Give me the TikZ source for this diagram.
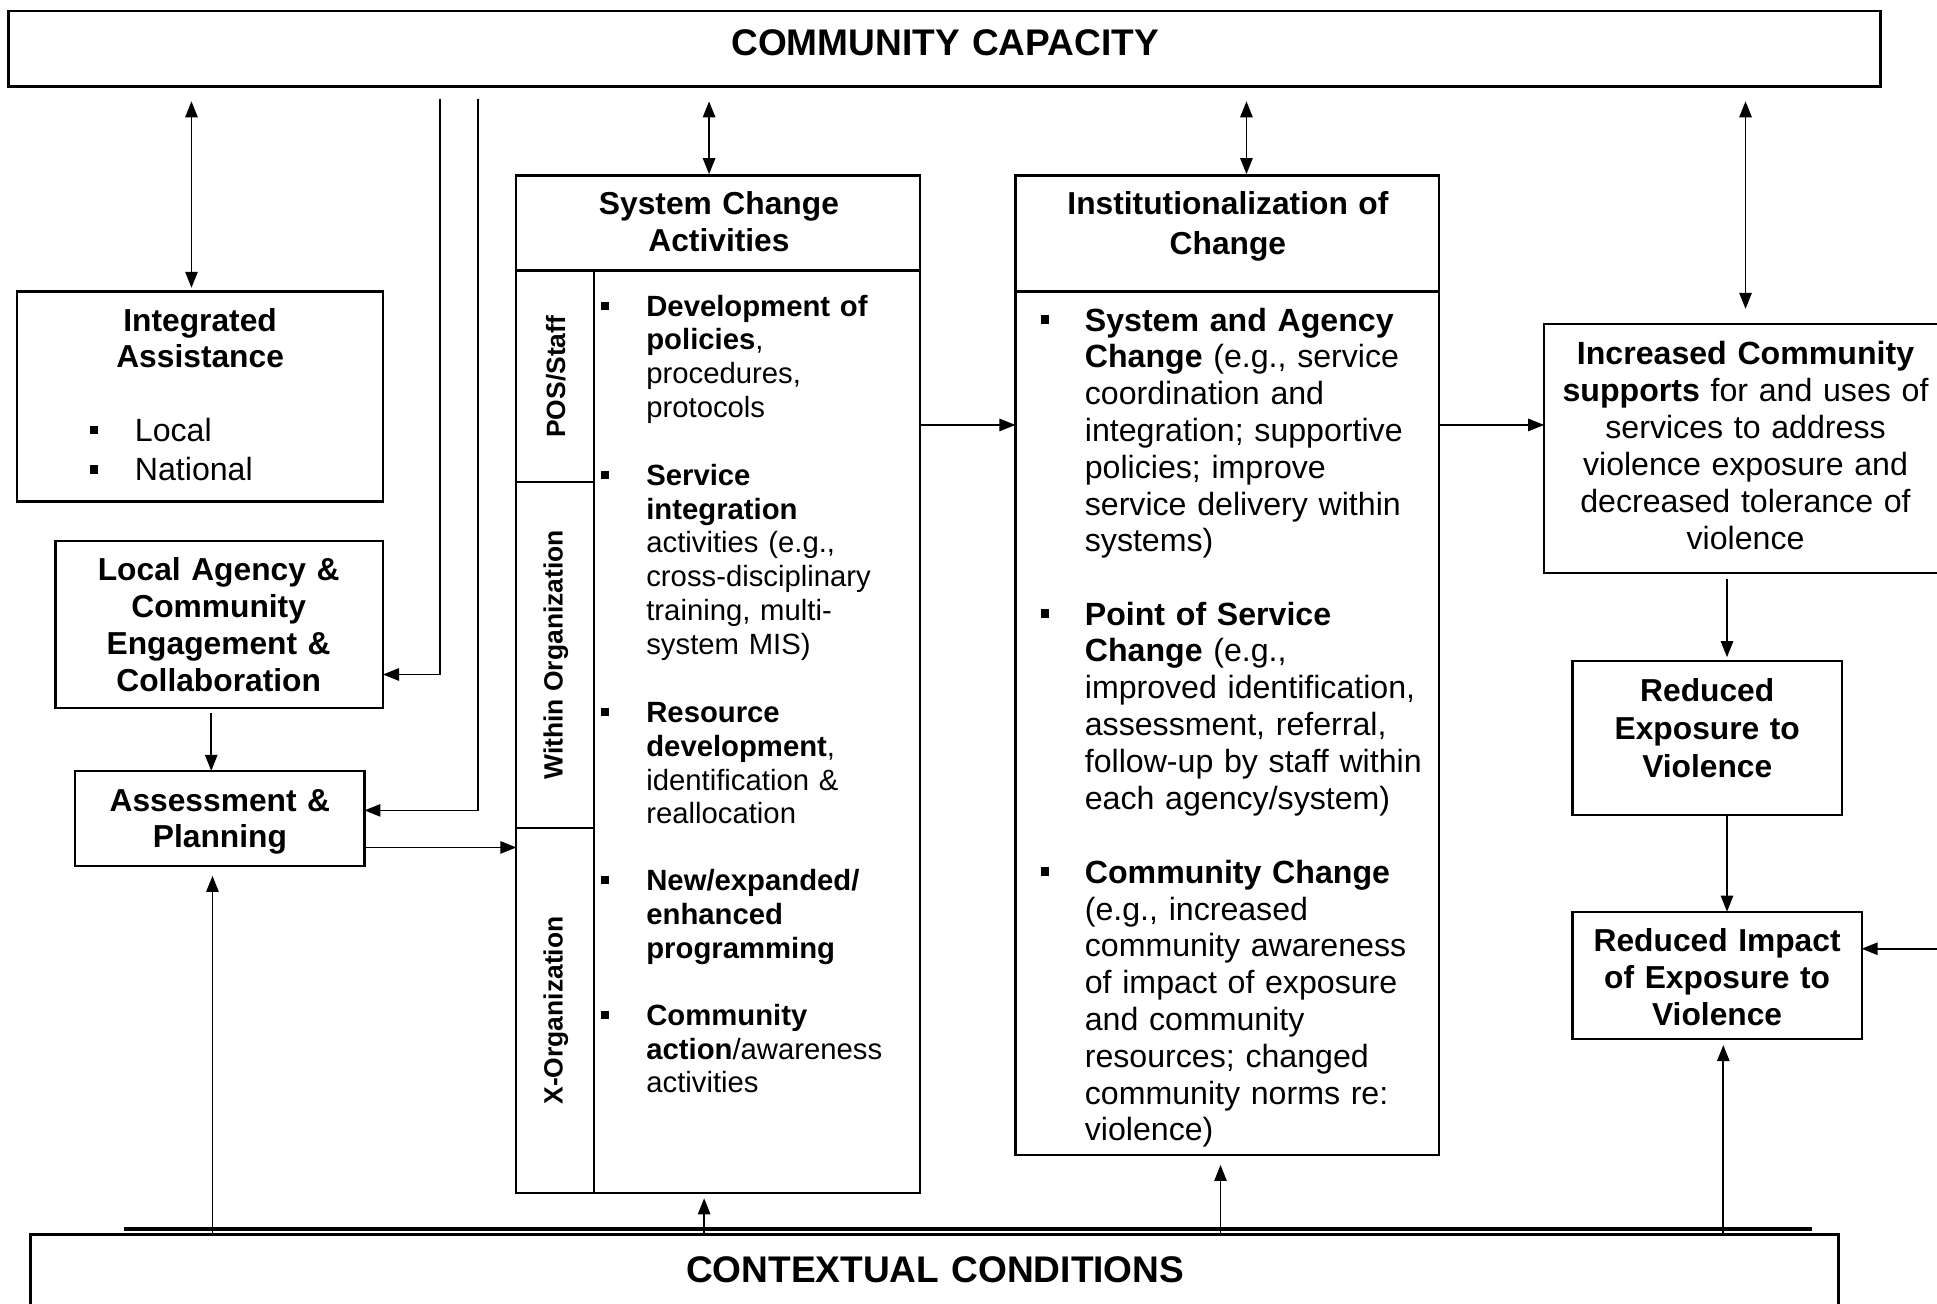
\documentclass[tikz,border=0pt]{standalone}
\usepackage{fontspec}
\setmainfont{Liberation Sans}
\usetikzlibrary{arrows.meta,calc}
\begin{document}
\begin{tikzpicture}[x=1pt,y=-1pt,
  box/.style={draw, line width=1.8pt, inner sep=0pt, outer sep=0pt},
  conn/.style={line width=1.4pt, -{Triangle[length=13pt,width=10pt]}},
  dconn/.style={line width=1.4pt, {Triangle[length=13pt,width=10pt]}-{Triangle[length=13pt,width=10pt]}},
  ttl/.style={font=\bfseries\fontsize{25.7}{29.8}\selectfont, align=center, inner sep=0pt, anchor=base},
  body/.style={font=\fontsize{23.7}{27.3}\selectfont, align=left, inner sep=0pt, anchor=base west, text width=220pt},
  bodyL/.style={font=\fontsize{26}{29.8}\selectfont, align=left, inner sep=0pt, anchor=base west, text width=290pt},
  bul/.style={fill, inner sep=0pt, minimum size=6.5pt},
  side/.style={font=\bfseries\fontsize{21.4}{25}\selectfont, rotate=90, inner sep=0pt},
]
\useasboundingbox (0,0) rectangle (1568,1055);
\clip (0,0) rectangle (1568,1055);

% ---------- top box
\node[box, line width=2.2pt, minimum width=1515pt, minimum height=61pt] (cc) at (764.5,39.5) {};
\node[ttl, font=\bfseries\fontsize{30}{34}\selectfont, text width=800pt] (cct) at (765,45) {COMMUNITY CAPACITY};

% ---------- left column
\node[box, minimum width=296pt, minimum height=170pt] (ia) at (162,321) {};
\node[ttl, text width=280pt] (iat) at (162,268) {Integrated\\Assistance};
\node[bul, minimum size=7pt] (iab1) at (76,348) {};
\node[bul, minimum size=7pt] (iab2) at (76,380) {};
\node[bodyL, font=\fontsize{26}{32}\selectfont, text width=180pt] (iab) at (109,357) {Local\\National};

\node[box, minimum width=265pt, minimum height=135pt] (la) at (177.5,505.5) {};
\node[ttl, text width=260pt] (lat) at (177,470) {Local Agency \&\\Community\\Engagement \&\\Collaboration};

\node[box, minimum width=234pt, minimum height=77pt] (ap) at (178,662.5) {};
\node[ttl, text width=230pt, font=\bfseries\fontsize{25.7}{29}\selectfont] (apt) at (178,657) {Assessment \&\\Planning};

% ---------- System change activities
\node[box, minimum width=327pt, minimum height=824pt] (sc) at (581.5,554) {};
\draw[line width=1.8pt] (sc.west |- 0,219) coordinate (sch1) -- (sc.east |- 0,219) coordinate (sch2);
\draw[line width=1.8pt] (481,219) coordinate (scv1) -- (scv1 |- sc.south);
\draw[line width=1.8pt] (sc.west |- 0,390) coordinate (scd1) -- (scd1 -| scv1);
\draw[line width=1.8pt] (sc.west |- 0,670) coordinate (scd2) -- (scd2 -| scv1);
\node[ttl, text width=320pt] (sct) at (582,174) {System Change\\Activities};
\node[side] (s1) at (450,305) {POS/Staff};
\node[side] (s2) at (450,530) {Within Organization};
\node[side] (s3) at (450,818) {X-Organization};

\node[bul] (b1) at (490,247.5) {};
\node[body] (t1) at (523,256) {\textbf{Development of}\\\textbf{policies},\\procedures,\\protocols};
\node[bul] (b2) at (490,384.5) {};
\node[body] (t2) at (523,393) {\textbf{Service}\\\textbf{integration}\\activities (e.g.,\\cross-disciplinary\\training, multi-\\system MIS)};
\node[bul] (b3) at (490,576.5) {};
\node[body] (t3) at (523,585) {\textbf{Resource}\\\textbf{development},\\identification \&\\reallocation};
\node[bul] (b4) at (490,712.5) {};
\node[body] (t4) at (523,721) {\textbf{New/expanded/}\\\textbf{enhanced}\\\textbf{programming}};
\node[bul] (b5) at (490,821.5) {};
\node[body] (t5) at (523,830) {\textbf{Community}\\\textbf{action}/awareness\\activities};

% ---------- Institutionalization
\node[box, minimum width=343pt, minimum height=793pt] (inst) at (993.5,538.5) {};
\draw[line width=1.8pt] (inst.west |- 0,236) coordinate (ih1) -- (inst.east |- 0,236) coordinate (ih2);
\node[ttl, text width=335pt, font=\bfseries\fontsize{25.7}{32}\selectfont] (instt) at (994,174) {Institutionalization of\\Change};
\node[bul, minimum size=7pt] (ib1) at (846,258.7) {};
\node[bodyL] (it1) at (878,268) {\textbf{System and Agency}\\\textbf{Change} (e.g., service\\coordination and\\integration; supportive\\policies; improve\\service delivery within\\systems)};
\node[bul, minimum size=7pt] (ib2) at (846,496.7) {};
\node[bodyL] (it2) at (878,506) {\textbf{Point of Service}\\\textbf{Change} (e.g.,\\improved identification,\\assessment, referral,\\follow-up by staff within\\each agency/system)};
\node[bul, minimum size=7pt] (ib3) at (846,705.7) {};
\node[bodyL] (it3) at (878,715) {\textbf{Community Change}\\(e.g., increased\\community awareness\\of impact of exposure\\and community\\resources; changed\\community norms re:\\violence)};

% ---------- right column
\node[box, minimum width=350pt, minimum height=202pt] (inc) at (1425,363) {};
\node[ttl, font=\fontsize{26}{30}\selectfont, text width=320pt] (inct) at (1413,295) {\textbf{Increased Community}\\\textbf{supports} for and uses of\\services to address\\violence exposure and\\decreased tolerance of\\violence};

\node[box, minimum width=218pt, minimum height=125pt] (rex) at (1382,597.5) {};
\node[ttl, text width=210pt, font=\bfseries\fontsize{25.7}{30.5}\selectfont] (rext) at (1382,568) {Reduced\\Exposure to\\Violence};

\node[box, minimum width=234pt, minimum height=103pt] (rim) at (1390,789.5) {};
\node[ttl, text width=230pt, font=\bfseries\fontsize{25.7}{30}\selectfont] (rimt) at (1390,770) {Reduced Impact\\of Exposure to\\Violence};

% ---------- bottom
\draw[line width=3.2pt] (100,995) coordinate (bl1) -- (1467,995) coordinate (bl2);
\node[box, line width=2.6pt, minimum width=1463pt, minimum height=76pt] (ctx) at (756.5,1037) {};
\node[ttl, font=\bfseries\fontsize{30}{34}\selectfont, text width=800pt] (ctxt) at (757,1038) {CONTEXTUAL CONDITIONS};

% ---------- connectors
\coordinate (c1) at (155,82);
\draw[dconn] (c1) -- ($(c1 |- ia.north)+(0,-3)$);
\coordinate (c2) at (574,82);
\draw[dconn] (c2) -- ($(c2 |- sc.north)+(0,-1)$);
\coordinate (c3) at (1009,82);
\draw[dconn] (c3) -- ($(c3 |- inst.north)+(0,-1)$);
\coordinate (c4) at (1413,82);
\draw[dconn] (c4) -- ($(c4 |- inc.north)+(0,-12)$);

\coordinate (l1) at (356,80);
\draw[conn] (l1) |- ($(la.south east)+(0,-27)$);
\coordinate (l2) at (387,80);
\draw[conn] (l2) |- ($(ap.south east)+(0,-45)$);

\coordinate (la1) at ($(la.south)+(-6.5,4)$);
\draw[conn] (la1) -- (la1 |- ap.north);
\coordinate (ap1) at ($(ap.south east)+(0,-15)$);
\draw[conn] (ap1) -- (ap1 -| sc.west);
\coordinate (sc1) at (sc.east |- 0,344);
\draw[conn] (sc1) -- (sc1 -| inst.west);
\coordinate (in1) at (inst.east |- 0,344);
\draw[conn] (in1) -- (in1 -| inc.west);
\coordinate (inc1) at (1398,469);
\draw[conn] (inc1) -- ($(inc1 |- rex.north)+(0,-3)$);
\coordinate (rex1) at (rex.south -| inc1);
\draw[conn] (rex1) -- (rex1 |- rim.north);
\coordinate (r1) at (1568,768);
\draw[conn] (r1) -- (r1 -| rim.east);

\coordinate (d1) at (ctx.north -| 172,0);
\draw[conn] (d1) -- ($(d1 |- ap.south)+(0,8)$);
\coordinate (d2) at (ctx.north -| 570,0);
\draw[conn] (d2) -- ($(d2 |- sc.south)+(0,4)$);
\coordinate (d3) at (ctx.north -| 988,0);
\draw[conn] (d3) -- ($(d3 |- inst.south)+(0,8)$);
\coordinate (d4) at (ctx.north -| 1395,0);
\draw[conn] (d4) -- ($(d4 |- rim.south)+(0,5)$);
\end{tikzpicture}
\end{document}
